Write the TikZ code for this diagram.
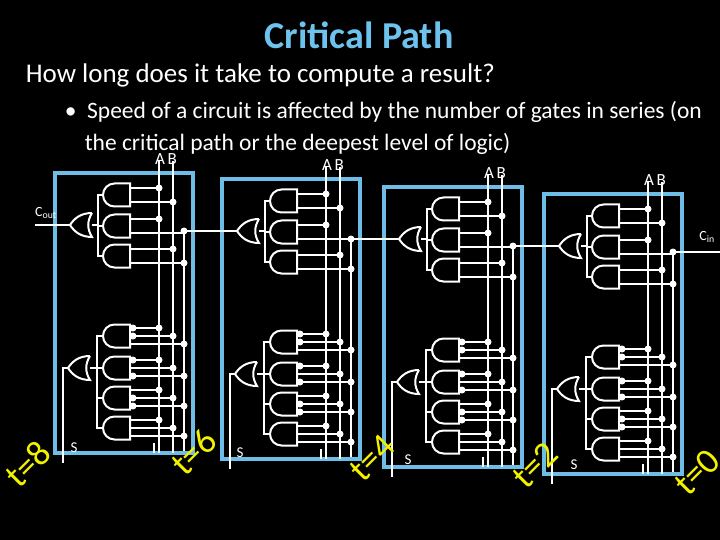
\documentclass[tikz,border=0pt]{standalone}
\usepackage{fontspec}
\setmainfont{Carlito}
\begin{document}
\begin{tikzpicture}[x=1pt,y=-1pt,line width=1.6pt,
  wire/.style={draw=white,line width=1.6pt},
  gate/.style={draw=white,line width=2pt},
  stagebox/.style={draw=boxblue,line width=3.5pt},
  dot/.style={fill=white},
  tlabel/.style={text=tyellow,font=\fontsize{36}{36}\selectfont,rotate=45,inner sep=0pt},
  slabel/.style={text=white,font=\fontsize{15}{15}\selectfont}]
\definecolor{boxblue}{HTML}{6DBDE6}
\definecolor{tyellow}{HTML}{F2F200}
\definecolor{titleblue}{HTML}{6EC3EE}
\fill[black] (0,0) rectangle (720,540);
\useasboundingbox (0,0) rectangle (720,540);
\newcommand{\andg}[1]{\draw[gate] (75,#1-11.5) -- (59.5,#1-11.5) arc[start angle=270,end angle=90,radius=11.5] -- (75,#1+11.5) -- cycle;}
\newcommand{\org}[2]{\draw[gate] (#1+22,#2-12) .. controls (#1+10,#2-12) and (#1+4,#2-6) .. (#1,#2) .. controls (#1+4,#2+6) and (#1+10,#2+12) .. (#1+22,#2+12) .. controls (#1+17,#2+4) and (#1+17,#2-4) .. (#1+22,#2-12);}
\newcommand{\fulladder}[3]{%
\begin{scope}[shift={(#1,#2)}]
 \draw[stagebox] (0,0) rectangle (138,280);
 \draw[wire] (104,-12) -- (104,280);
 \draw[wire] (118,-12) -- (118,280);
 \draw[wire] (129,#3) -- (129,278);
 \draw[wire] (99,270) -- (99,280);
 \andg{22}\andg{53}\andg{83}
 \draw[wire] (75,15) -- (104,15); \fill[dot] (104,15) circle (3.5);
 \draw[wire] (75,29) -- (118,29); \fill[dot] (118,29) circle (3.5);
 \draw[wire] (75,46) -- (104,46); \fill[dot] (104,46) circle (3.5);
 \draw[wire] (75,60) -- (129,60);
 \draw[wire] (75,76) -- (118,76); \fill[dot] (118,76) circle (3.5);
 \draw[wire] (75,90) -- (129,90); \fill[dot] (129,90) circle (3.5);
 \draw[wire] (48,22) -- (43,22) -- (43,83) -- (48,83);
 \draw[wire] (48,53) -- (43,53);
 \org{15}{52}
 \draw[wire] (37,52) -- (43,52);
 \foreach \yc/\ba/\bb/\bc in {163/1/1/0,195/1/0/1,225/0/1/1,255/0/0/0}{
   \andg{\yc}
   \draw[wire] (75,\yc-8) -- (104,\yc-8); \fill[dot] (104,\yc-8) circle (3.5);
   \draw[wire] (75,\yc) -- (118,\yc); \fill[dot] (118,\yc) circle (3.5);
   \draw[wire] (75,\yc+8) -- (129,\yc+8); \fill[dot] (129,\yc+8) circle (3.5);
   \ifnum\ba=1 \fill[dot] (78,\yc-8) circle (3.5);\fi
   \ifnum\bb=1 \fill[dot] (78,\yc) circle (3.5);\fi
   \ifnum\bc=1 \fill[dot] (78,\yc+8) circle (3.5);\fi
 }
 \draw[wire] (48,163) -- (42,163) -- (42,255) -- (48,255);
 \draw[wire] (48,195) -- (42,195); \draw[wire] (48,225) -- (42,225);
 \org{13}{195}
 \draw[wire] (35,195) -- (42,195);
 \draw[wire] (13,195) -- (8,195) -- (8,290);
\end{scope}}
\fulladder{55}{173}{58}
\fulladder{222}{179}{60}
\fulladder{384}{187}{59}
\fulladder{544}{194}{58}
\draw[wire] (70,225) -- (35,225);
\draw[wire] (237,231) -- (184,231); \fill[dot] (184,231) circle (3.5);
\draw[wire] (399,239) -- (351,239); \fill[dot] (351,239) circle (3.5);
\draw[wire] (559,246) -- (513,246); \fill[dot] (513,246) circle (3.5);
\draw[wire] (720,252) -- (673,252); \fill[dot] (673,252) circle (3.5);
\node[text=titleblue,font=\fontsize{38}{38}\selectfont\bfseries] (title) at (359,35) {Critical Path};
\node[text=white,font=\fontsize{27}{27}\selectfont,anchor=west,inner sep=0pt] (q) at (25,75) {How long does it take to compute a result?};
\node[text=white,font=\fontsize{23.5}{24}\selectfont,anchor=west,inner sep=0pt] (b1) at (64,112) {\textbullet\ \ Speed of a circuit is affected by the number of gates in series (on};
\node[text=white,font=\fontsize{23.5}{24}\selectfont,anchor=west,inner sep=0pt] (b2) at (84,144) {the critical path or the deepest level of logic)};
\foreach \n/\x/\y in {1/159/159,2/326/165,3/488/173,4/648/180}{
  \node[text=white,font=\fontsize{17}{17}\selectfont] (ab\n) at (\x+7,\y) {A\,B};
}
\node[text=white,font=\fontsize{14}{14}\selectfont] (cout) at (46,213) {C\textsubscript{out}};
\node[text=white,font=\fontsize{14}{14}\selectfont] (cin) at (707,237) {C\textsubscript{in}};
\node[slabel] (s1) at (74,448) {S};
\node[slabel] (s2) at (240,453) {S};
\node[slabel] (s3) at (408,460) {S};
\node[slabel] (s4) at (574,465) {S};
\node[tlabel] (t8) at (28,464) {t=8};
\node[tlabel] (t6) at (194,452) {t=6};
\node[tlabel] (t4) at (372,458) {t=4};
\node[tlabel] (t2) at (535,465) {t=2};
\node[tlabel] (t0) at (697,472) {t=0};
\end{tikzpicture}
\end{document}
